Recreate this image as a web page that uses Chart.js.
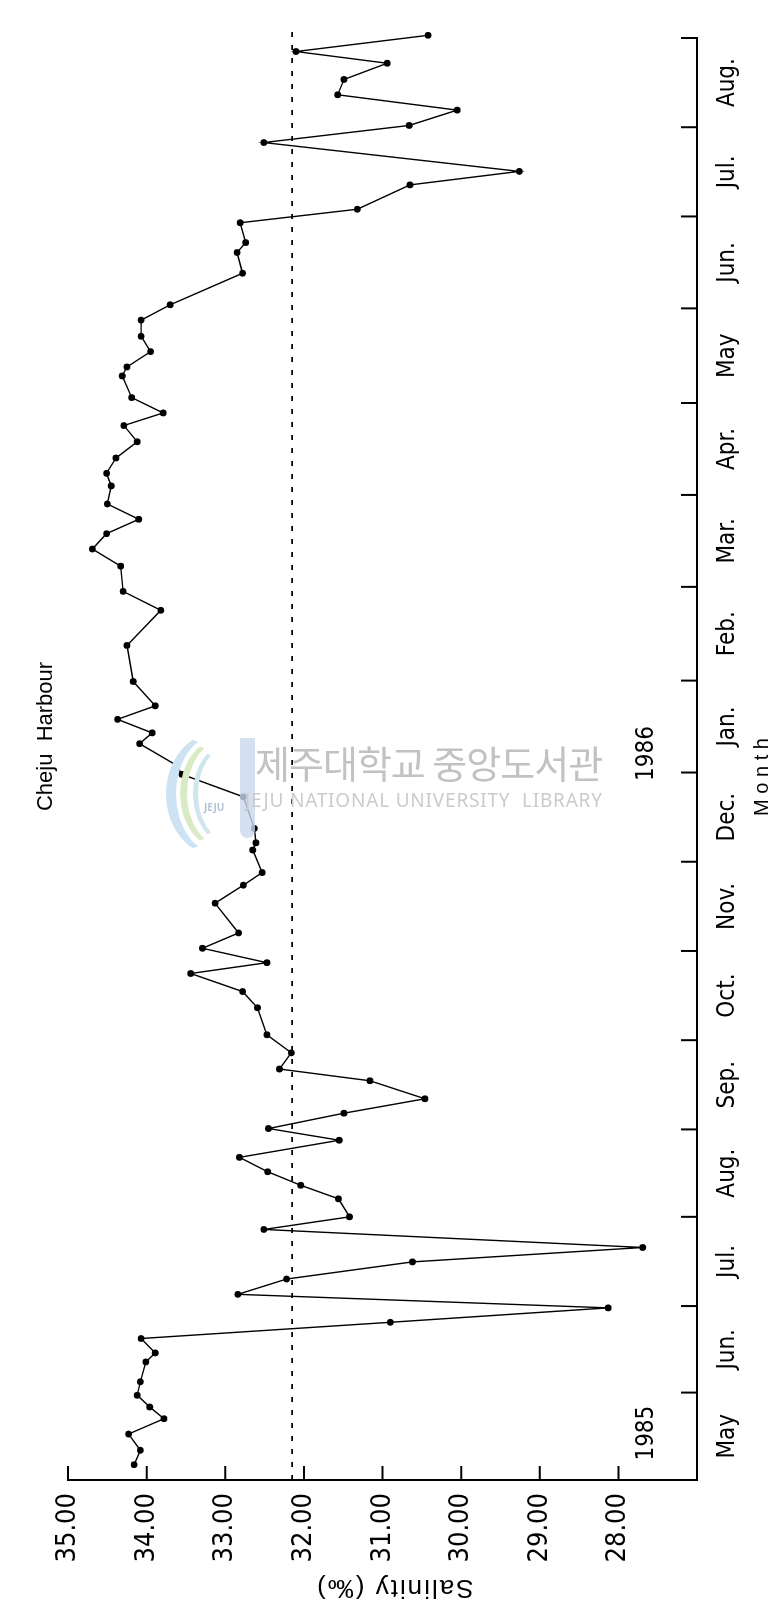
<!DOCTYPE html>
<html>
<head>
<meta charset="utf-8">
<script src="https://cdn.jsdelivr.net/npm/chart.js@4.4.1/dist/chart.umd.min.js"></script>
<style>
  html, body { margin: 0; padding: 0; background: #fff; }
  body { width: 772px; height: 1605px; position: relative; overflow: hidden; }
  /* the plot is laid out landscape and turned a quarter turn to stand upright */
  #frame {
    position: absolute; left: 0; top: 0;
    width: 1605px; height: 772px;
    transform-origin: 0 0;
    transform: translate(0px, 1605px) rotate(-90deg);
  }
  #frame canvas { display: block; }
  /* library stamp */
  #stamp { position: absolute; left: 0; top: 0; pointer-events: none; }
  #stamp .ko {
    position: absolute; left: 255px; top: 742px; white-space: nowrap;
    font-family: "Noto Sans CJK KR", sans-serif; font-size: 38px; line-height: 40px;
    color: #c2c2c2; letter-spacing: -1px;
  }
  #stamp .en {
    position: absolute; left: 245px; top: 790px; white-space: nowrap;
    font-family: "Noto Sans", sans-serif; font-size: 19px; line-height: 20px;
    color: #cbcbcb; letter-spacing: 0.8px;
  }
  #stamp .stem {
    position: absolute; left: 240px; top: 738px; width: 15px; height: 100px;
    background: #c9d8ec; border-radius: 0 0 9px 9px; opacity: .8;
  }
  #stamp .arc { position: absolute; border-radius: 50%; border-style: solid; border-color: transparent; }
  #stamp .a1 { left: 166px; top: 732px; width: 90px; height: 118px; border-left-width: 10px; border-left-color: #cde2f2; }
  #stamp .a2 { left: 180px; top: 738px; width: 75px; height: 105px; border-left-width: 7px; border-left-color: #d9eac6; }
  #stamp .a3 { left: 193px; top: 745px; width: 60px; height: 92px; border-left-width: 5px; border-left-color: #d0e6ee; }
  #stamp .seal {
    position: absolute; left: 204px; top: 800px; font-family: "Noto Sans", sans-serif;
    font-size: 10px; font-weight: bold; color: #b3c3d8;
  }
</style>
</head>
<body>
<div id="frame"><canvas id="chart" width="1605" height="772"></canvas></div>
<div id="stamp">
  <span class="arc a1"></span><span class="arc a2"></span><span class="arc a3"></span><span class="stem"></span>
  <span class="seal">JEJU</span>
  <div class="ko">제주대학교 중앙도서관</div>
  <div class="en">JEJU NATIONAL UNIVERSITY&nbsp;&nbsp;LIBRARY</div>
</div>
<script>
// Sampling times along the month axis (months from the start of May 1985)
const sampleMonth = [
  0.17, 0.33, 0.51, 0.68, 0.81, 0.94, 1.09, 1.31, 1.41, 1.57,
  1.75, 1.91, 2.06, 2.23, 2.42, 2.58, 2.78, 2.92, 3.12, 3.27,
  3.42, 3.58, 3.77, 3.90, 4.07, 4.23, 4.43, 4.56, 4.74, 4.94,
  5.24, 5.42, 5.62, 5.74, 5.90, 6.07, 6.40, 6.60, 6.74, 6.99,
  7.07, 7.23, 7.58, 7.83, 7.93, 8.17, 8.29, 8.44, 8.59, 8.86,
  9.26, 9.65, 9.86, 10.14, 10.33, 10.50, 10.66, 10.83, 11.03, 11.17,
  11.34, 11.52, 11.70, 11.84, 12.01, 12.25, 12.35, 12.52, 12.69, 12.87,
  13.04, 13.39, 13.62, 13.73, 13.95, 14.10, 14.37, 14.52, 14.84, 15.03,
  15.20, 15.37, 15.54, 15.72, 15.85, 16.03
];

// Surface salinity (per mil) at each sampling time
const salinity = [
  34.16, 34.08, 34.23, 33.78, 33.96, 34.12, 34.08, 34.01, 33.89, 34.07,
  30.90, 28.13, 32.84, 32.22, 30.62, 27.69, 32.51, 31.42, 31.56, 32.04,
  32.46, 32.82, 31.55, 32.45, 31.49, 30.46, 31.16, 32.31, 32.16, 32.47,
  32.59, 32.78, 33.44, 32.47, 33.29, 32.83, 33.13, 32.77, 32.53, 32.65,
  32.61, 32.63, 32.77, 33.55, 33.62, 34.09, 33.93, 34.37, 33.89, 34.17,
  34.25, 33.82, 34.30, 34.33, 34.69, 34.51, 34.10, 34.50, 34.45, 34.51,
  34.39, 34.12, 34.29, 33.79, 34.19, 34.31, 34.25, 33.95, 34.07, 34.07,
  33.70, 32.78, 32.85, 32.74, 32.81, 31.32, 30.65, 29.26, 32.51, 30.66,
  30.05, 31.57, 31.49, 30.94, 32.10, 30.42
];

// Month names, May 1985 through Aug. 1986, and the month boundaries on the axis
const monthNames = ['May', 'Jun.', 'Jul.', 'Aug.', 'Sep.', 'Oct.', 'Nov.', 'Dec.',
                    'Jan.', 'Feb.', 'Mar.', 'Apr.', 'May', 'Jun.', 'Jul.', 'Aug.'];
const monthEdges = [0, 0.97, 1.93, 2.92, 3.89, 4.88, 5.87, 6.86, 7.85,
                    8.87, 9.91, 10.93, 11.95, 13.00, 14.02, 15.01, 16.00];
const yearNames = ['1985', '1986'];
const yearAt = [0.52, 8.06];
const salinityTicks = [35, 34, 33, 32, 31, 30, 29, 28];
const meanSalinity = 32.15;

const NARROW = "'Liberation Sans Narrow', 'DejaVu Sans Condensed', 'Liberation Sans', sans-serif";
const PLAIN = "'Liberation Sans', 'DejaVu Sans', sans-serif";

// inward tick marks, year markers, heading and axis captions
const frameMarks = {
  id: 'frameMarks',
  afterDraw(chart) {
    const { ctx, chartArea: a, scales: { x, y } } = chart;
    ctx.save();
    ctx.strokeStyle = '#000';
    ctx.lineWidth = 2;
    ctx.beginPath();
    monthEdges.slice(1).forEach(m => {
      const px = x.getPixelForValue(m);
      ctx.moveTo(px, a.bottom);
      ctx.lineTo(px, a.bottom - 16);
    });
    salinityTicks.forEach(v => {
      const py = y.getPixelForValue(v);
      ctx.moveTo(a.left, py);
      ctx.lineTo(a.left + 14, py);
    });
    ctx.stroke();

    ctx.fillStyle = '#000';
    ctx.textAlign = 'center';
    ctx.textBaseline = 'middle';
    ctx.font = '24px ' + NARROW;
    yearNames.forEach((t, i) => ctx.fillText(t, x.getPixelForValue(yearAt[i]), a.bottom - 50));

    ctx.font = '22px ' + PLAIN;
    ctx.fillText('Cheju  Harbour', x.getPixelForValue(8.25), 46);

    ctx.font = '20px ' + PLAIN;
    ctx.fillText('M o n t h', x.getPixelForValue(7.8), 762);

    ctx.translate(18, y.getPixelForValue(30.85));
    ctx.rotate(-Math.PI / 2);
    ctx.font = '26px ' + PLAIN;
    ctx.letterSpacing = '2px';
    ctx.fillText('Salinity (\u2030)', 0, 0);
    ctx.restore();
  }
};

new Chart(document.getElementById('chart'), {
  type: 'line',
  data: {
    datasets: [
      {
        data: sampleMonth.map((m, i) => ({ x: m, y: salinity[i] })),
        borderColor: '#000',
        borderWidth: 1.4,
        pointRadius: 3.4,
        pointBackgroundColor: '#000',
        pointBorderWidth: 0,
        tension: 0,
        clip: false
      },
      {
        data: [{ x: 0, y: meanSalinity }, { x: 16.15, y: meanSalinity }],
        borderColor: '#000',
        borderWidth: 1.6,
        borderDash: [5, 8],
        pointRadius: 0,
        clip: false
      }
    ]
  },
  options: {
    responsive: false,
    animation: false,
    devicePixelRatio: 1,
    layout: { padding: { top: 68, right: 38, left: 0, bottom: 0 } },
    plugins: { legend: { display: false }, tooltip: { enabled: false }, title: { display: false } },
    scales: {
      x: {
        type: 'linear',
        min: 0,
        max: 16,
        grid: { display: false, drawTicks: false },
        border: { display: true, color: '#000', width: 2 },
        afterBuildTicks: s => {
          s.ticks = monthNames.map((n, i) => ({ value: (monthEdges[i] + monthEdges[i + 1]) / 2 }));
        },
        afterFit: s => { s.height = 75; },
        ticks: {
          autoSkip: false, maxRotation: 0, minRotation: 0, padding: 16, color: '#000',
          font: { family: NARROW, size: 24 },
          callback: (v, i) => monthNames[i]
        }
      },
      y: {
        type: 'linear',
        min: 27,
        max: 35,
        grid: { display: false, drawTicks: false },
        border: { display: true, color: '#000', width: 2 },
        afterBuildTicks: s => { s.ticks = salinityTicks.map(v => ({ value: v })); },
        afterFit: s => { s.width = 125; },
        ticks: {
          autoSkip: false, padding: 13, color: '#000',
          font: { family: NARROW, size: 27 },
          callback: v => v.toFixed(2)
        }
      }
    }
  },
  plugins: [frameMarks]
});
</script>
</body>
</html>
